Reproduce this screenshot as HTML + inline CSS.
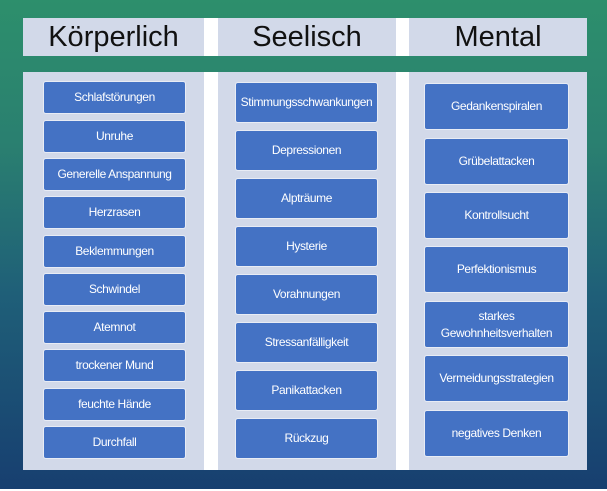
<!DOCTYPE html><html><head><style>
body{margin:0;width:607px;height:491px;overflow:hidden;font-family:"Liberation Sans",sans-serif;}
.bg{position:absolute;left:0;top:0;width:607px;height:489px;background:linear-gradient(180deg,#2d8f6c 0%,#2a7f70 30%,#1f5f78 60%,#173f70 100%);}
.w{position:absolute;background:#fff;}
.p{position:absolute;background:#d2d9e9;}
.h{position:absolute;font-size:29px;color:#111;text-align:center;line-height:38px;}
.b{position:absolute;background:#4472c4;color:#fff;font-size:12px;text-align:center;display:flex;align-items:center;justify-content:center;border-radius:2px;box-shadow:0 0 0 1px #e8ecf5;letter-spacing:-0.4px;line-height:17px;}
</style></head><body>
<div class="bg"></div>
<div class="w" style="left:23px;top:18px;width:564px;height:38px"></div>
<div class="w" style="left:23px;top:72px;width:564px;height:398px"></div>
<div class="p" style="left:23px;top:18px;width:181px;height:38px"></div>
<div class="p" style="left:218px;top:18px;width:178px;height:38px"></div>
<div class="p" style="left:409px;top:18px;width:178px;height:38px"></div>
<div class="p" style="left:23px;top:72px;width:181px;height:398px"></div>
<div class="p" style="left:218px;top:72px;width:178px;height:398px"></div>
<div class="p" style="left:409px;top:72px;width:178px;height:398px"></div>
<div class="h" style="left:23px;top:18px;width:181px">Körperlich</div>
<div class="h" style="left:218px;top:18px;width:178px">Seelisch</div>
<div class="h" style="left:409px;top:18px;width:178px">Mental</div>

<div class="b" style="left:44px;top:82px;width:141px;height:31px">Schlafstörungen</div>
<div class="b" style="left:44px;top:121px;width:141px;height:31px">Unruhe</div>
<div class="b" style="left:44px;top:159px;width:141px;height:31px">Generelle Anspannung</div>
<div class="b" style="left:44px;top:197px;width:141px;height:31px">Herzrasen</div>
<div class="b" style="left:44px;top:236px;width:141px;height:31px">Beklemmungen</div>
<div class="b" style="left:44px;top:274px;width:141px;height:31px">Schwindel</div>
<div class="b" style="left:44px;top:312px;width:141px;height:31px">Atemnot</div>
<div class="b" style="left:44px;top:350px;width:141px;height:31px">trockener Mund</div>
<div class="b" style="left:44px;top:389px;width:141px;height:31px">feuchte Hände</div>
<div class="b" style="left:44px;top:427px;width:141px;height:31px">Durchfall</div>

<div class="b" style="left:236px;top:83px;width:141px;height:39px">Stimmungsschwankungen</div>
<div class="b" style="left:236px;top:131px;width:141px;height:39px">Depressionen</div>
<div class="b" style="left:236px;top:179px;width:141px;height:39px">Alpträume</div>
<div class="b" style="left:236px;top:227px;width:141px;height:39px">Hysterie</div>
<div class="b" style="left:236px;top:275px;width:141px;height:39px">Vorahnungen</div>
<div class="b" style="left:236px;top:323px;width:141px;height:39px">Stressanfälligkeit</div>
<div class="b" style="left:236px;top:371px;width:141px;height:39px">Panikattacken</div>
<div class="b" style="left:236px;top:419px;width:141px;height:39px">Rückzug</div>

<div class="b" style="left:425px;top:84px;width:143px;height:45px">Gedankenspiralen</div>
<div class="b" style="left:425px;top:139px;width:143px;height:45px">Grübelattacken</div>
<div class="b" style="left:425px;top:193px;width:143px;height:45px">Kontrollsucht</div>
<div class="b" style="left:425px;top:247px;width:143px;height:45px">Perfektionismus</div>
<div class="b" style="left:425px;top:302px;width:143px;height:45px">starkes<br>Gewohnheitsverhalten</div>
<div class="b" style="left:425px;top:356px;width:143px;height:45px">Vermeidungsstrategien</div>
<div class="b" style="left:425px;top:411px;width:143px;height:45px">negatives Denken</div>
</body></html>
